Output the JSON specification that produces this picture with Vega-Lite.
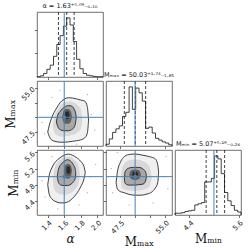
{
"$schema": "https://vega.github.io/schema/vega-lite/v6.json",
"padding": {"left": 4, "top": 2, "right": 0, "bottom": 0},
"background": "white",
"config": {
 "view": {"stroke": "#4a4a4a", "strokeWidth": 0.8},
 "axis": {"domain": false, "grid": false, "tickSize": 2.5, "tickColor": "#333", "tickWidth": 0.7, "labelFont": "DejaVu Sans", "labelFontSize": 7, "labelColor": "#222", "labelPadding": 1, "titleFont": "DejaVu Serif", "titleFontSize": 12, "titleFontWeight": "normal", "titleColor": "#111", "titlePadding": 2},
 "title": {"font": "DejaVu Sans", "fontSize": 6.5, "fontWeight": "normal", "offset": 2, "color": "#222"}
},
"datasets": {
 "truth": [{"a": 1.6, "mx": 50.0, "mn": 5.0}],
 "hA": [{"i":0,"x":1.27,"c":0},{"i":1,"x":1.27,"c":0.5},{"i":2,"x":1.31,"c":2},{"i":3,"x":1.35,"c":6},{"i":4,"x":1.39,"c":13},{"i":5,"x":1.43,"c":20},{"i":6,"x":1.47,"c":35},{"i":7,"x":1.51,"c":55},{"i":8,"x":1.55,"c":70},{"i":9,"x":1.59,"c":86},{"i":10,"x":1.63,"c":100},{"i":11,"x":1.67,"c":88},{"i":12,"x":1.71,"c":60},{"i":13,"x":1.75,"c":30},{"i":14,"x":1.79,"c":14},{"i":15,"x":1.83,"c":6},{"i":16,"x":1.87,"c":3},{"i":17,"x":1.91,"c":2},{"i":18,"x":1.95,"c":1},{"i":19,"x":1.99,"c":0.5},{"i":20,"x":2.03,"c":0.5},{"i":21,"x":2.07,"c":0.5},{"i":22,"x":2.07,"c":0}],
 "hMax": [{"i":0,"x":45.1,"c":0},{"i":1,"x":45.1,"c":3},{"i":2,"x":45.655,"c":12},{"i":3,"x":46.21,"c":23},{"i":4,"x":46.765,"c":29},{"i":5,"x":47.32,"c":34},{"i":6,"x":47.875,"c":50},{"i":7,"x":48.43,"c":57},{"i":8,"x":48.985,"c":100},{"i":9,"x":49.54,"c":62},{"i":10,"x":50.095,"c":98},{"i":11,"x":50.65,"c":90},{"i":12,"x":51.205,"c":76},{"i":13,"x":51.76,"c":30},{"i":14,"x":52.315,"c":32},{"i":15,"x":52.87,"c":22},{"i":16,"x":53.425,"c":13},{"i":17,"x":53.98,"c":10},{"i":18,"x":54.535,"c":7},{"i":19,"x":55.09,"c":5},{"i":20,"x":55.645,"c":2},{"i":21,"x":56.2,"c":2},{"i":22,"x":56.2,"c":0}],
 "hMin": [{"i":0,"x":4.05,"c":0},{"i":1,"x":4.05,"c":3},{"i":2,"x":4.131,"c":3},{"i":3,"x":4.211,"c":4},{"i":4,"x":4.292,"c":6},{"i":5,"x":4.372,"c":7},{"i":6,"x":4.453,"c":8},{"i":7,"x":4.533,"c":17},{"i":8,"x":4.614,"c":19},{"i":9,"x":4.694,"c":21},{"i":10,"x":4.775,"c":56},{"i":11,"x":4.855,"c":56},{"i":12,"x":4.936,"c":62},{"i":13,"x":5.016,"c":100},{"i":14,"x":5.097,"c":95},{"i":15,"x":5.177,"c":70},{"i":16,"x":5.258,"c":38},{"i":17,"x":5.338,"c":24},{"i":18,"x":5.419,"c":16},{"i":19,"x":5.499,"c":8},{"i":20,"x":5.58,"c":5},{"i":21,"x":5.66,"c":5},{"i":22,"x":5.66,"c":0}],
 "qA": [{"v":1.53},{"v":1.63},{"v":1.72}],
 "qMax": [{"v":48.18},{"v":50.03},{"v":51.77}],
 "qMin": [{"v":4.81},{"v":5.07},{"v":5.26}],
 "cAMax": [
  {"l":"o","x":1.40,"lo":47.5,"hi":47.5},{"l":"o","x":1.42,"lo":46.7,"hi":48.7},{"l":"o","x":1.45,"lo":46.1,"hi":50.0},{"l":"o","x":1.50,"lo":45.85,"hi":51.4},{"l":"o","x":1.55,"lo":45.75,"hi":52.5},{"l":"o","x":1.60,"lo":45.75,"hi":53.1},{"l":"o","x":1.65,"lo":45.8,"hi":53.35},{"l":"o","x":1.70,"lo":45.9,"hi":53.3},{"l":"o","x":1.75,"lo":46.0,"hi":53.15},{"l":"o","x":1.80,"lo":46.15,"hi":52.95},{"l":"o","x":1.85,"lo":46.5,"hi":52.75},{"l":"o","x":1.88,"lo":47.3,"hi":51.8},{"l":"o","x":1.895,"lo":49.5,"hi":49.5},
  {"l":"m","x":1.46,"lo":48.6,"hi":48.6},{"l":"m","x":1.48,"lo":47.4,"hi":50.0},{"l":"m","x":1.52,"lo":46.9,"hi":51.3},{"l":"m","x":1.58,"lo":46.7,"hi":52.3},{"l":"m","x":1.64,"lo":46.8,"hi":52.7},{"l":"m","x":1.70,"lo":47.0,"hi":52.6},{"l":"m","x":1.76,"lo":47.4,"hi":52.1},{"l":"m","x":1.80,"lo":48.0,"hi":51.4},{"l":"m","x":1.82,"lo":49.5,"hi":49.5},
  {"l":"i","x":1.505,"lo":49.2,"hi":49.2},{"l":"i","x":1.52,"lo":48.5,"hi":50.3},{"l":"i","x":1.55,"lo":47.9,"hi":51.0},{"l":"i","x":1.60,"lo":47.7,"hi":51.7},{"l":"i","x":1.65,"lo":47.7,"hi":52.0},{"l":"i","x":1.69,"lo":47.9,"hi":51.9},{"l":"i","x":1.72,"lo":48.3,"hi":51.4},{"l":"i","x":1.74,"lo":49.3,"hi":50.6},{"l":"i","x":1.745,"lo":50.0,"hi":50.0},
  {"l":"c","x":1.575,"lo":50.0,"hi":50.0},{"l":"c","x":1.59,"lo":49.2,"hi":51.0},{"l":"c","x":1.62,"lo":48.9,"hi":51.4},{"l":"c","x":1.65,"lo":48.9,"hi":51.4},{"l":"c","x":1.68,"lo":49.3,"hi":51.0},{"l":"c","x":1.695,"lo":50.1,"hi":50.1},
  {"l":"k","x":1.605,"lo":50.3,"hi":50.3},{"l":"k","x":1.62,"lo":49.7,"hi":51.0},{"l":"k","x":1.65,"lo":49.7,"hi":51.0},{"l":"k","x":1.665,"lo":50.4,"hi":50.4}
 ],
 "cAMin": [
  {"l":"o","x":1.40,"lo":4.80,"hi":4.80},{"l":"o","x":1.42,"lo":4.55,"hi":5.05},{"l":"o","x":1.45,"lo":4.45,"hi":5.22},{"l":"o","x":1.50,"lo":4.38,"hi":5.38},{"l":"o","x":1.55,"lo":4.35,"hi":5.47},{"l":"o","x":1.60,"lo":4.35,"hi":5.53},{"l":"o","x":1.65,"lo":4.38,"hi":5.56},{"l":"o","x":1.70,"lo":4.46,"hi":5.53},{"l":"o","x":1.75,"lo":4.58,"hi":5.47},{"l":"o","x":1.80,"lo":4.75,"hi":5.38},{"l":"o","x":1.84,"lo":4.95,"hi":5.25},{"l":"o","x":1.855,"lo":5.1,"hi":5.1},
  {"l":"m","x":1.46,"lo":4.95,"hi":4.95},{"l":"m","x":1.48,"lo":4.68,"hi":5.18},{"l":"m","x":1.53,"lo":4.58,"hi":5.38},{"l":"m","x":1.60,"lo":4.55,"hi":5.47},{"l":"m","x":1.66,"lo":4.57,"hi":5.49},{"l":"m","x":1.72,"lo":4.66,"hi":5.42},{"l":"m","x":1.77,"lo":4.82,"hi":5.30},{"l":"m","x":1.79,"lo":5.05,"hi":5.05},
  {"l":"i","x":1.515,"lo":5.0,"hi":5.0},{"l":"i","x":1.53,"lo":4.86,"hi":5.18},{"l":"i","x":1.56,"lo":4.79,"hi":5.30},{"l":"i","x":1.60,"lo":4.78,"hi":5.38},{"l":"i","x":1.64,"lo":4.78,"hi":5.42},{"l":"i","x":1.68,"lo":4.81,"hi":5.38},{"l":"i","x":1.71,"lo":4.87,"hi":5.30},{"l":"i","x":1.735,"lo":4.97,"hi":5.17},{"l":"i","x":1.74,"lo":5.08,"hi":5.08},
  {"l":"c","x":1.595,"lo":5.12,"hi":5.12},{"l":"c","x":1.61,"lo":4.98,"hi":5.27},{"l":"c","x":1.645,"lo":4.95,"hi":5.32},{"l":"c","x":1.68,"lo":5.0,"hi":5.27},{"l":"c","x":1.695,"lo":5.15,"hi":5.15},
  {"l":"k","x":1.625,"lo":5.16,"hi":5.16},{"l":"k","x":1.635,"lo":5.07,"hi":5.25},{"l":"k","x":1.665,"lo":5.07,"hi":5.25},{"l":"k","x":1.675,"lo":5.16,"hi":5.16}
 ],
 "cMaxMin": [
  {"l":"o","x":46.8,"lo":4.85,"hi":4.85},{"l":"o","x":47.0,"lo":4.70,"hi":5.10},{"l":"o","x":47.5,"lo":4.63,"hi":5.35},{"l":"o","x":48.0,"lo":4.61,"hi":5.47},{"l":"o","x":49.0,"lo":4.56,"hi":5.55},{"l":"o","x":50.0,"lo":4.54,"hi":5.56},{"l":"o","x":51.0,"lo":4.54,"hi":5.54},{"l":"o","x":52.0,"lo":4.57,"hi":5.51},{"l":"o","x":52.8,"lo":4.62,"hi":5.48},{"l":"o","x":53.4,"lo":4.72,"hi":5.44},{"l":"o","x":53.8,"lo":4.85,"hi":5.30},{"l":"o","x":53.95,"lo":5.1,"hi":5.1},
  {"l":"m","x":47.6,"lo":4.95,"hi":4.95},{"l":"m","x":47.8,"lo":4.72,"hi":5.2},{"l":"m","x":48.5,"lo":4.67,"hi":5.36},{"l":"m","x":49.5,"lo":4.65,"hi":5.42},{"l":"m","x":50.5,"lo":4.65,"hi":5.42},{"l":"m","x":51.5,"lo":4.68,"hi":5.37},{"l":"m","x":52.4,"lo":4.76,"hi":5.25},{"l":"m","x":52.8,"lo":4.98,"hi":4.98},
  {"l":"i","x":48.2,"lo":4.95,"hi":4.95},{"l":"i","x":48.3,"lo":4.84,"hi":5.12},{"l":"i","x":48.9,"lo":4.79,"hi":5.21},{"l":"i","x":49.7,"lo":4.79,"hi":5.23},{"l":"i","x":50.6,"lo":4.80,"hi":5.23},{"l":"i","x":51.4,"lo":4.82,"hi":5.18},{"l":"i","x":51.8,"lo":4.92,"hi":5.10},{"l":"i","x":51.9,"lo":5.0,"hi":5.0},
  {"l":"c","x":49.0,"lo":5.05,"hi":5.05},{"l":"c","x":49.3,"lo":4.95,"hi":5.15},{"l":"c","x":50.0,"lo":4.92,"hi":5.18},{"l":"c","x":50.7,"lo":4.95,"hi":5.15},{"l":"c","x":51.0,"lo":5.05,"hi":5.05},
  {"l":"k","x":49.5,"lo":5.06,"hi":5.06},{"l":"k","x":49.7,"lo":5.0,"hi":5.12},{"l":"k","x":50.3,"lo":5.0,"hi":5.12},{"l":"k","x":50.5,"lo":5.06,"hi":5.06}
 ],
 "pAMax": [{"x":1.36,"y":47.2},{"x":1.93,"y":50.5},{"x":1.45,"y":53.4},{"x":1.88,"y":53.9},{"x":1.33,"y":49.1},{"x":1.97,"y":47.8},{"x":1.55,"y":54.6},{"x":1.75,"y":45.4}],
 "pAMin": [{"x":1.37,"y":4.5},{"x":1.92,"y":5.0},{"x":1.45,"y":5.5},{"x":1.88,"y":4.6},{"x":1.33,"y":4.9},{"x":1.52,"y":4.2},{"x":1.78,"y":4.3},{"x":1.98,"y":5.3}],
 "pMaxMin": [{"x":46.2,"y":4.6},{"x":54.8,"y":5.0},{"x":47.0,"y":5.6},{"x":55.2,"y":5.5},{"x":46.0,"y":5.2},{"x":49.0,"y":4.3},{"x":53.0,"y":4.35},{"x":55.5,"y":4.7}]
},
"align": "all",
"bounds": "flush",
"spacing": {"row": 4, "column": 3},
"columns": 3,
"concat": [
 {"width": 66, "height": 65, "title": {"text": "α = 1.63⁺⁰·⁰⁹₋₀.₁₀"},
  "layer": [
   {"data": {"name": "hA"}, "mark": {"type": "line", "interpolate": "step-after", "color": "#111", "strokeWidth": 0.8},
    "encoding": {"x": {"field": "x", "type": "quantitative", "scale": {"domain": [1.27, 2.07], "nice": false, "zero": false}, "axis": {"values": [1.4, 1.6, 1.8, 2.0], "labels": false, "title": null}},
     "y": {"field": "c", "type": "quantitative", "scale": {"domain": [0, 110], "nice": false}, "axis": {"values": [40, 80], "labels": false, "title": null}},
     "order": {"field": "i", "type": "quantitative"}}},
   {"data": {"name": "qA"}, "mark": {"type": "rule", "strokeDash": [3, 2], "color": "#111", "strokeWidth": 0.8}, "encoding": {"x": {"field": "v", "type": "quantitative"}}},
   {"data": {"name": "truth"}, "mark": {"type": "rule", "color": "#4682b4", "strokeWidth": 1}, "encoding": {"x": {"field": "a", "type": "quantitative"}}}
  ]},
 {"width": 66, "height": 65, "view": {"stroke": null}, "data": {"values": [{"z": 0}]}, "mark": {"type": "point", "opacity": 0}, "encoding": {}},
 {"width": 66, "height": 65, "view": {"stroke": null}, "data": {"values": [{"z": 0}]}, "mark": {"type": "point", "opacity": 0}, "encoding": {}},
 {"width": 66, "height": 65,
  "encoding": {"x": {"type": "quantitative", "scale": {"domain": [1.27, 2.07], "nice": false, "zero": false}, "axis": {"values": [1.4, 1.6, 1.8, 2.0], "labels": false, "title": null}},
               "y": {"type": "quantitative", "scale": {"domain": [45.1, 56.2], "nice": false, "zero": false}, "axis": {"values": [47.5, 50, 52.5, 55], "format": ".1f", "labelAngle": -45, "title": "Mₘₐₓ"}}},
  "layer": [
   {"data": {"name": "pAMax"}, "mark": {"type": "circle", "size": 2, "color": "#888", "opacity": 0.6}, "encoding": {"x": {"field": "x"}, "y": {"field": "y"}}},
   {"data": {"name": "cAMax"}, "transform": [{"filter": "datum.l == 'o'"}], "mark": {"type": "area", "interpolate": "monotone", "fill": "#f0f0f0", "stroke": "#111", "strokeWidth": 0.8}, "encoding": {"x": {"field": "x"}, "y": {"field": "lo"}, "y2": {"field": "hi"}}},
   {"data": {"name": "cAMax"}, "transform": [{"filter": "datum.l == 'm'"}], "mark": {"type": "area", "interpolate": "monotone", "fill": "#d8d8d8"}, "encoding": {"x": {"field": "x"}, "y": {"field": "lo"}, "y2": {"field": "hi"}}},
   {"data": {"name": "cAMax"}, "transform": [{"filter": "datum.l == 'i'"}], "mark": {"type": "area", "interpolate": "monotone", "fill": "#a8a8a8", "stroke": "#111", "strokeWidth": 0.8}, "encoding": {"x": {"field": "x"}, "y": {"field": "lo"}, "y2": {"field": "hi"}}},
   {"data": {"name": "cAMax"}, "transform": [{"filter": "datum.l == 'c'"}], "mark": {"type": "area", "interpolate": "monotone", "fill": "#606060"}, "encoding": {"x": {"field": "x"}, "y": {"field": "lo"}, "y2": {"field": "hi"}}},
   {"data": {"name": "cAMax"}, "transform": [{"filter": "datum.l == 'k'"}], "mark": {"type": "area", "interpolate": "monotone", "fill": "#2a2a2a"}, "encoding": {"x": {"field": "x"}, "y": {"field": "lo"}, "y2": {"field": "hi"}}},
   {"data": {"name": "truth"}, "mark": {"type": "rule", "color": "#4682b4", "strokeWidth": 1}, "encoding": {"x": {"field": "a"}}},
   {"data": {"name": "truth"}, "mark": {"type": "rule", "color": "#4682b4", "strokeWidth": 1}, "encoding": {"y": {"field": "mx"}}},
   {"data": {"name": "truth"}, "mark": {"type": "square", "color": "#4682b4", "opacity": 1, "size": 10}, "encoding": {"x": {"field": "a"}, "y": {"field": "mx"}}}
  ]},
 {"width": 66, "height": 65, "title": {"text": "Mₘₐₓ = 50.03⁺¹·⁷⁴₋₁.₈₅"},
  "layer": [
   {"data": {"name": "hMax"}, "mark": {"type": "line", "interpolate": "step-after", "color": "#111", "strokeWidth": 0.8},
    "encoding": {"x": {"field": "x", "type": "quantitative", "scale": {"domain": [45.1, 56.2], "nice": false, "zero": false}, "axis": {"values": [47.5, 50, 52.5, 55], "labels": false, "title": null}},
     "y": {"field": "c", "type": "quantitative", "scale": {"domain": [0, 110], "nice": false}, "axis": null},
     "order": {"field": "i", "type": "quantitative"}}},
   {"data": {"name": "qMax"}, "mark": {"type": "rule", "strokeDash": [3, 2], "color": "#111", "strokeWidth": 0.8}, "encoding": {"x": {"field": "v", "type": "quantitative"}}},
   {"data": {"name": "truth"}, "mark": {"type": "rule", "color": "#4682b4", "strokeWidth": 1}, "encoding": {"x": {"field": "mx", "type": "quantitative"}}}
  ]},
 {"width": 66, "height": 65, "view": {"stroke": null}, "data": {"values": [{"z": 0}]}, "mark": {"type": "point", "opacity": 0}, "encoding": {}},
 {"width": 66, "height": 65,
  "encoding": {"x": {"type": "quantitative", "scale": {"domain": [1.27, 2.07], "nice": false, "zero": false}, "axis": {"values": [1.4, 1.6, 1.8, 2.0], "format": ".1f", "labelAngle": -45, "title": "α", "titleFontStyle": "italic"}},
               "y": {"type": "quantitative", "scale": {"domain": [4.05, 5.66], "nice": false, "zero": false}, "axis": {"values": [4.4, 4.8, 5.2, 5.6], "format": ".1f", "labelAngle": -45, "title": "Mₘᵢₙ"}}},
  "layer": [
   {"data": {"name": "pAMin"}, "mark": {"type": "circle", "size": 2, "color": "#888", "opacity": 0.6}, "encoding": {"x": {"field": "x"}, "y": {"field": "y"}}},
   {"data": {"name": "cAMin"}, "transform": [{"filter": "datum.l == 'o'"}], "mark": {"type": "area", "interpolate": "monotone", "fill": "#f0f0f0", "stroke": "#111", "strokeWidth": 0.8}, "encoding": {"x": {"field": "x"}, "y": {"field": "lo"}, "y2": {"field": "hi"}}},
   {"data": {"name": "cAMin"}, "transform": [{"filter": "datum.l == 'm'"}], "mark": {"type": "area", "interpolate": "monotone", "fill": "#d8d8d8"}, "encoding": {"x": {"field": "x"}, "y": {"field": "lo"}, "y2": {"field": "hi"}}},
   {"data": {"name": "cAMin"}, "transform": [{"filter": "datum.l == 'i'"}], "mark": {"type": "area", "interpolate": "monotone", "fill": "#a8a8a8", "stroke": "#111", "strokeWidth": 0.8}, "encoding": {"x": {"field": "x"}, "y": {"field": "lo"}, "y2": {"field": "hi"}}},
   {"data": {"name": "cAMin"}, "transform": [{"filter": "datum.l == 'c'"}], "mark": {"type": "area", "interpolate": "monotone", "fill": "#606060"}, "encoding": {"x": {"field": "x"}, "y": {"field": "lo"}, "y2": {"field": "hi"}}},
   {"data": {"name": "cAMin"}, "transform": [{"filter": "datum.l == 'k'"}], "mark": {"type": "area", "interpolate": "monotone", "fill": "#2a2a2a"}, "encoding": {"x": {"field": "x"}, "y": {"field": "lo"}, "y2": {"field": "hi"}}},
   {"data": {"name": "truth"}, "mark": {"type": "rule", "color": "#4682b4", "strokeWidth": 1}, "encoding": {"x": {"field": "a"}}},
   {"data": {"name": "truth"}, "mark": {"type": "rule", "color": "#4682b4", "strokeWidth": 1}, "encoding": {"y": {"field": "mn"}}},
   {"data": {"name": "truth"}, "mark": {"type": "square", "color": "#4682b4", "opacity": 1, "size": 10}, "encoding": {"x": {"field": "a"}, "y": {"field": "mn"}}}
  ]},
 {"width": 66, "height": 65,
  "encoding": {"x": {"type": "quantitative", "scale": {"domain": [45.1, 56.2], "nice": false, "zero": false}, "axis": {"values": [47.5, 50, 52.5, 55], "format": ".1f", "labelAngle": -45, "title": "Mₘₐₓ"}},
               "y": {"type": "quantitative", "scale": {"domain": [4.05, 5.66], "nice": false, "zero": false}, "axis": {"values": [4.4, 4.8, 5.2, 5.6], "labels": false, "title": null}}},
  "layer": [
   {"data": {"name": "pMaxMin"}, "mark": {"type": "circle", "size": 2, "color": "#888", "opacity": 0.6}, "encoding": {"x": {"field": "x"}, "y": {"field": "y"}}},
   {"data": {"name": "cMaxMin"}, "transform": [{"filter": "datum.l == 'o'"}], "mark": {"type": "area", "interpolate": "monotone", "fill": "#f0f0f0", "stroke": "#111", "strokeWidth": 0.8}, "encoding": {"x": {"field": "x"}, "y": {"field": "lo"}, "y2": {"field": "hi"}}},
   {"data": {"name": "cMaxMin"}, "transform": [{"filter": "datum.l == 'm'"}], "mark": {"type": "area", "interpolate": "monotone", "fill": "#d8d8d8"}, "encoding": {"x": {"field": "x"}, "y": {"field": "lo"}, "y2": {"field": "hi"}}},
   {"data": {"name": "cMaxMin"}, "transform": [{"filter": "datum.l == 'i'"}], "mark": {"type": "area", "interpolate": "monotone", "fill": "#a8a8a8", "stroke": "#111", "strokeWidth": 0.8}, "encoding": {"x": {"field": "x"}, "y": {"field": "lo"}, "y2": {"field": "hi"}}},
   {"data": {"name": "cMaxMin"}, "transform": [{"filter": "datum.l == 'c'"}], "mark": {"type": "area", "interpolate": "monotone", "fill": "#606060"}, "encoding": {"x": {"field": "x"}, "y": {"field": "lo"}, "y2": {"field": "hi"}}},
   {"data": {"name": "cMaxMin"}, "transform": [{"filter": "datum.l == 'k'"}], "mark": {"type": "area", "interpolate": "monotone", "fill": "#2a2a2a"}, "encoding": {"x": {"field": "x"}, "y": {"field": "lo"}, "y2": {"field": "hi"}}},
   {"data": {"name": "truth"}, "mark": {"type": "rule", "color": "#4682b4", "strokeWidth": 1}, "encoding": {"x": {"field": "mx"}}},
   {"data": {"name": "truth"}, "mark": {"type": "rule", "color": "#4682b4", "strokeWidth": 1}, "encoding": {"y": {"field": "mn"}}},
   {"data": {"name": "truth"}, "mark": {"type": "square", "color": "#4682b4", "opacity": 1, "size": 10}, "encoding": {"x": {"field": "mx"}, "y": {"field": "mn"}}}
  ]},
 {"width": 66, "height": 65, "title": {"text": "Mₘᵢₙ = 5.07⁺⁰·¹⁹₋₀.₂₆"},
  "layer": [
   {"data": {"name": "hMin"}, "mark": {"type": "line", "interpolate": "step-after", "color": "#111", "strokeWidth": 0.8},
    "encoding": {"x": {"field": "x", "type": "quantitative", "scale": {"domain": [4.05, 5.66], "nice": false, "zero": false}, "axis": {"values": [4.4, 4.8, 5.2, 5.6], "format": ".1f", "labelAngle": -45, "title": "Mₘᵢₙ"}},
     "y": {"field": "c", "type": "quantitative", "scale": {"domain": [0, 110], "nice": false}, "axis": null},
     "order": {"field": "i", "type": "quantitative"}}},
   {"data": {"name": "qMin"}, "mark": {"type": "rule", "strokeDash": [3, 2], "color": "#111", "strokeWidth": 0.8}, "encoding": {"x": {"field": "v", "type": "quantitative"}}},
   {"data": {"name": "truth"}, "mark": {"type": "rule", "color": "#4682b4", "strokeWidth": 1}, "encoding": {"x": {"field": "mn", "type": "quantitative"}}}
  ]}
]
}
